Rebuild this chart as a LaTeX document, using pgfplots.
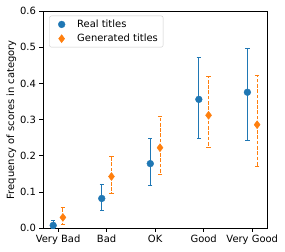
\documentclass[border=0pt]{standalone}
\usepackage{pgfplots}
\pgfplotsset{compat=1.18}
\usepackage{fontspec}
\setmainfont{DejaVu Sans}
\definecolor{tabblue}{HTML}{1F77B4}
\definecolor{taborange}{HTML}{FF7F0E}
\begin{document}
\fontsize{10}{12}\selectfont
\begin{tikzpicture}
\begin{axis}[
  scale only axis,
  width=224.3bp, height=217.3bp,
  xmin=-0.31, xmax=4.31,
  ymin=0, ymax=0.6,
  xtick={0,1,2,3,4},
  xticklabels={Very Bad,Bad,OK,Good,Very Good},
  ytick={0,0.1,0.2,0.3,0.4,0.5,0.6},
  yticklabel style={/pgf/number format/.cd,fixed,fixed zerofill,precision=1},
  /pgf/number format/assume math mode=true,
  tick align=outside,
  major tick length=3.5bp,
  xtick pos=left, ytick pos=left,
  tick style={line width=0.8bp, black},
  axis line style={line width=0.8bp},
  ticklabel style={font=\fontsize{10}{12}\selectfont},
  ylabel={Frequency of scores in category},
  ylabel style={font=\fontsize{10}{12}\selectfont, yshift=-3bp},
  clip=false,
  legend style={at={(0.028,0.9784)}, anchor=north west, draw=black!20, rounded corners=2bp,
    font=\fontsize{10}{12}\selectfont, inner xsep=3.3bp, inner ysep=2bp, row sep=1.2bp},
  legend image code/.code={\path (0bp,0bp) (22bp,0bp); \draw[#1] plot coordinates {(8.7bp,0bp)};},
  legend cell align=left,
]
\addplot[only marks, mark=*, mark size=3.4bp, color=tabblue,
  error bars/.cd, y dir=both, y explicit,
  error bar style={line width=1bp, tabblue},
  error mark options={rotate=90, mark size=2.2bp, line width=1bp, tabblue}]
coordinates {
  (-0.1,0.008) += (0,0.014) -= (0,0.008)
  (0.9,0.0824) += (0,0.0386) -= (0,0.033)
  (1.9,0.1786) += (0,0.0706) -= (0,0.0606)
  (2.9,0.356) += (0,0.116) -= (0,0.107)
  (3.9,0.3757) += (0,0.121) -= (0,0.133)
};
\addlegendentry{Real titles}
\addplot[only marks, mark=diamond*, mark size=4bp, color=taborange,
  error bars/.cd, y dir=both, y explicit,
  error bar style={line width=1bp, taborange, dash pattern=on 3.7bp off 1.6bp},
  error mark options={rotate=90, mark size=2.2bp, line width=1bp, taborange, solid}]
coordinates {
  (0.1,0.030) += (0,0.028) -= (0,0.019)
  (1.1,0.143) += (0,0.055) -= (0,0.046)
  (2.1,0.2225) += (0,0.086) -= (0,0.0745)
  (3.1,0.312) += (0,0.108) -= (0,0.088)
  (4.1,0.286) += (0,0.137) -= (0,0.115)
};
\addlegendentry{Generated titles}
\end{axis}
\path (current axis.south west) ++(-43bp,-23.7bp) coordinate (bl);
\path (current axis.south west) ++(242bp,228.3bp) coordinate (tr);
\path (bl) rectangle (tr);
\end{tikzpicture}
\end{document}
